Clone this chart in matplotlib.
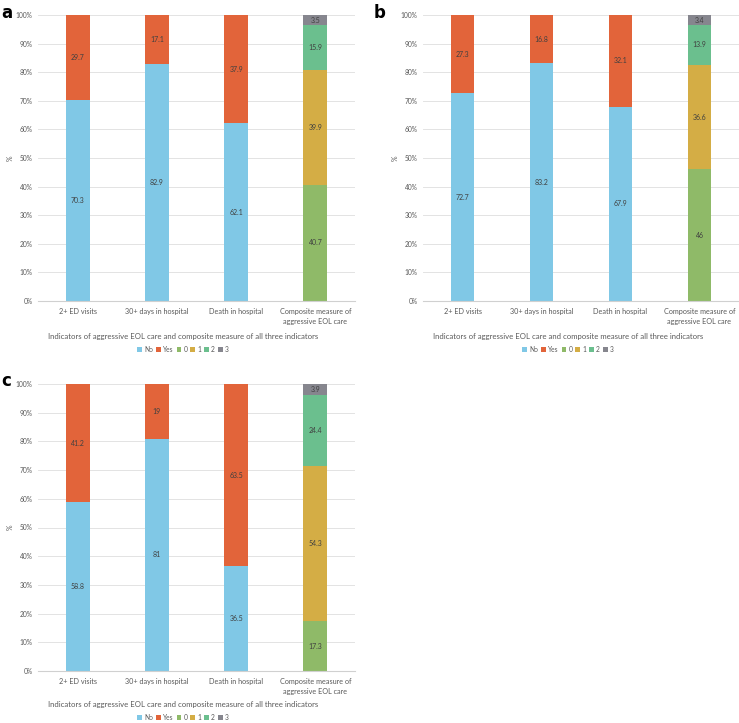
import numpy as np
import matplotlib
matplotlib.use("Agg")
import matplotlib.pyplot as plt

plt.rcParams["font.family"] = ["Lato", "DejaVu Sans"]

categories = ["2+ ED visits", "30+ days in hospital", "Death in hospital",
              "Composite measure of\naggressive EOL care"]
xlabel = "Indicators of aggressive EOL care and composite measure of all three indicators"
series_names = ["No", "Yes", "0", "1", "2", "3"]
colors = ["#80c8e6", "#e2643a", "#8fba68", "#d4ad45", "#6bbf8e", "#86868e"]

# panel a
a_no = [70.3, 82.9, 62.1]
a_yes = [29.7, 17.1, 37.9]
a_comp = [40.7, 39.9, 15.9, 3.5]
# panel b
b_no = [72.7, 83.2, 67.9]
b_yes = [27.3, 16.8, 32.1]
b_comp = [46, 36.6, 13.9, 3.4]
# panel c
c_no = [58.8, 81, 36.5]
c_yes = [41.2, 19, 63.5]
c_comp = [17.3, 54.3, 24.4, 3.9]

W, H = 739, 723
fig = plt.figure(figsize=(W / 100, H / 100), dpi=100)


def fx(px):
    return px / W


def fy(py):
    return 1 - py / H


def draw_panel(rect, no, yes, comp, letter, letter_xy, text_y):
    ax = fig.add_axes(rect)
    x = np.arange(len(categories))
    width = 0.3
    # No / Yes for the three indicators
    ax.bar(x[:3], no, width, color=colors[0], label="No", zorder=2)
    ax.bar(x[:3], yes, width, bottom=no, color=colors[1], label="Yes", zorder=2)
    for i in range(3):
        ax.text(x[i], no[i] / 2, f"{no[i]:g}", ha="center", va="center",
                fontsize=5, color="#404040", zorder=3)
        ax.text(x[i], no[i] + yes[i] / 2, f"{yes[i]:g}", ha="center", va="center",
                fontsize=5, color="#404040", zorder=3)
    # composite: 0..3
    bottom = 0
    for k, v in enumerate(comp):
        ax.bar(x[3], v, width, bottom=bottom, color=colors[2 + k],
               label=series_names[2 + k], zorder=2)
        ax.text(x[3], bottom + v / 2, f"{v:g}", ha="center", va="center",
                fontsize=5, color="#404040", zorder=3)
        bottom += v

    ax.set_xlim(-0.5, 3.5)
    ax.set_ylim(0, 100)
    ax.set_yticks(np.arange(0, 101, 10))
    ax.set_yticklabels([f"{t}%" for t in range(0, 101, 10)])
    ax.set_xticks(x)
    ax.set_xticklabels(categories, fontsize=5.2, color="#595959", linespacing=1.5)
    ax.tick_params(axis="y", labelsize=4.8, colors="#595959", length=0, pad=4)
    ax.tick_params(axis="x", length=0, pad=5)
    ax.grid(axis="y", color="#e3e3e3", linewidth=0.7, zorder=0)
    for s in ["top", "right", "left"]:
        ax.spines[s].set_visible(False)
    ax.spines["bottom"].set_color("#d0d0d0")
    ax.spines["bottom"].set_linewidth(0.8)

    left = rect[0] * W
    fig.text(fx(left - 28), rect[1] + rect[3] / 2, "%", fontsize=5,
             color="#595959", ha="center", va="center", rotation=90)
    cx = left + 145
    fig.text(fx(cx), fy(text_y[0]), xlabel, fontsize=5.6, color="#595959",
             ha="center", va="center")
    # legend
    handles, labels = ax.get_legend_handles_labels()
    fig.legend(handles, labels, loc="center", bbox_to_anchor=(fx(cx), fy(text_y[1])),
               ncol=6, frameon=False, fontsize=4.8, handlelength=0.7,
               handleheight=0.7, handletextpad=0.3, columnspacing=0.5,
               labelcolor="#595959")
    fig.text(fx(letter_xy[0]), fy(letter_xy[1]), letter, fontsize=12,
             fontweight="bold", family="DejaVu Sans", ha="left", va="center")
    return ax


draw_panel([fx(38), fy(301), fx(317), (301 - 15) / H], a_no, a_yes, a_comp,
           "a", (1, 13), (336, 349))
draw_panel([fx(423), fy(301), fx(316), (301 - 15) / H], b_no, b_yes, b_comp,
           "b", (374, 13), (336, 349))
draw_panel([fx(38), fy(671), fx(317), (671 - 384) / H], c_no, c_yes, c_comp,
           "c", (1, 381), (705, 717))

fig.savefig("out.png", dpi=100)
